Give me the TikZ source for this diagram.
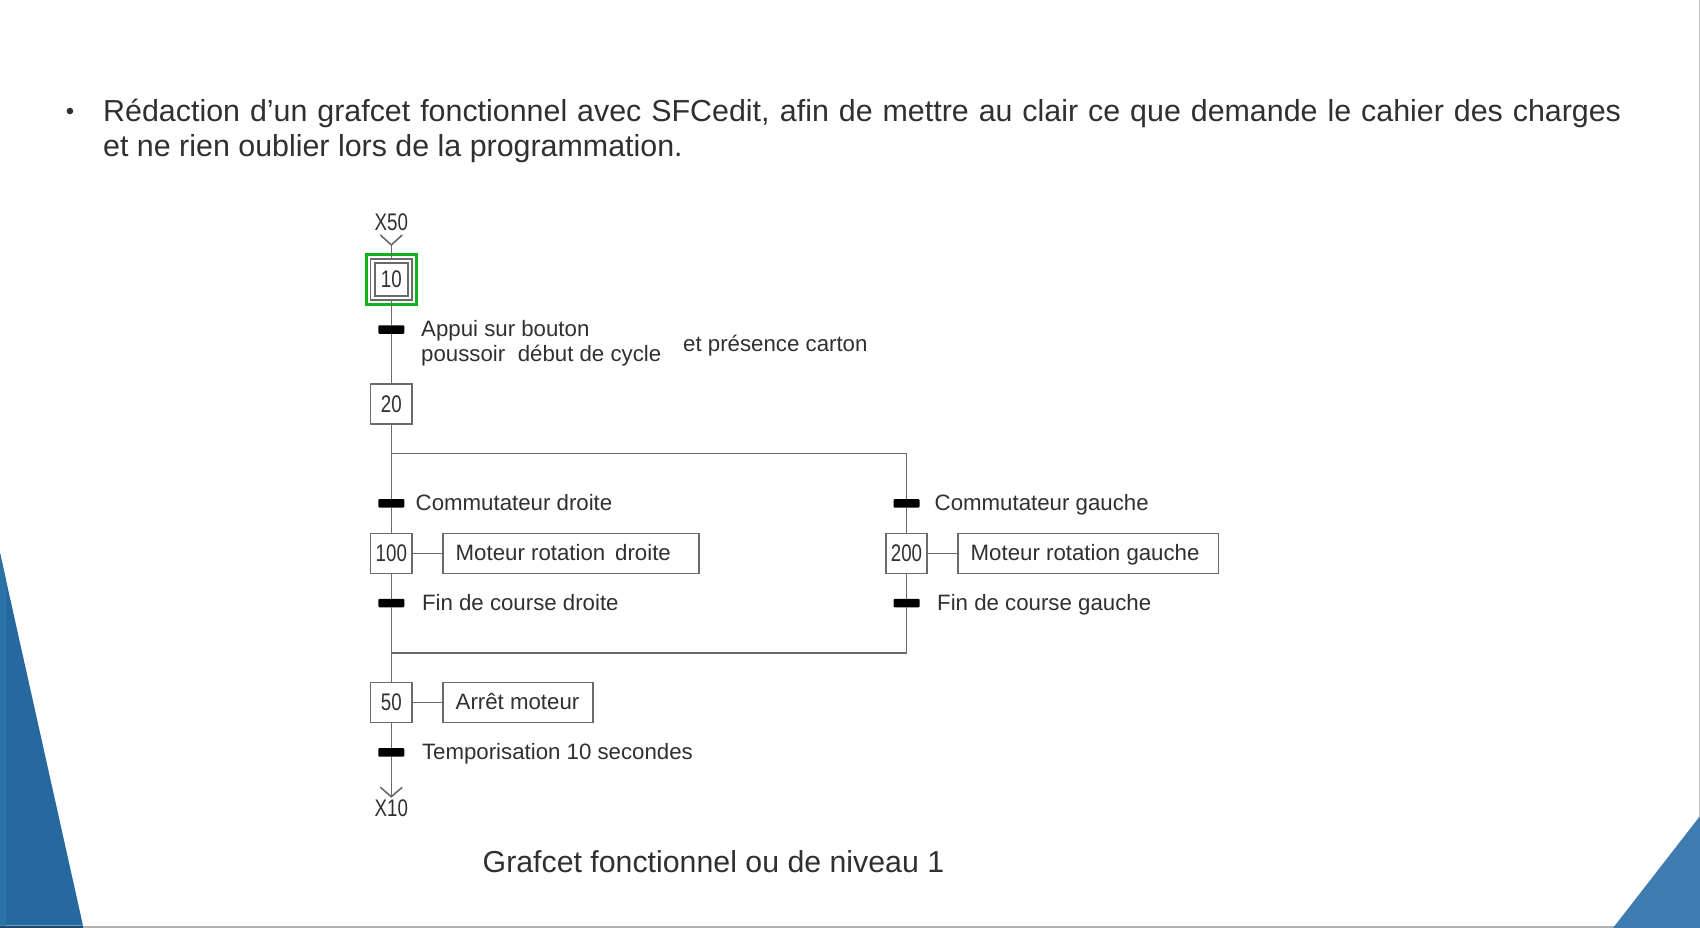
\documentclass[tikz,border=0pt]{standalone}
\usepackage{fontspec}
\setmainfont{Liberation Sans}
\usetikzlibrary{arrows.meta}

\definecolor{trait}{HTML}{6A6A6A}
\definecolor{texte}{HTML}{303030}
\definecolor{bleug}{HTML}{27699F}
\definecolor{bleugc}{HTML}{2B72A8}
\definecolor{bleud}{HTML}{3F7DB0}
\definecolor{vert}{HTML}{12B21E}
\newcommand{\etnum}[1]{\scalebox{.78}[1]{\fontsize{24}{27}\selectfont #1}}

\begin{document}
\begin{tikzpicture}[
    x=1pt, y=-1pt,
    every node/.style={font=\fontsize{22.25}{27}\selectfont, text=texte},
    etape/.style={rectangle, draw=trait, line width=1.6pt, fill=white, minimum width=41.5pt, minimum height=40pt, inner sep=0pt},
    act/.style={rectangle, draw=trait, line width=1.6pt, fill=white, minimum height=40pt, inner sep=0pt},
    tr/.style={rectangle, fill=black, rounded corners=1pt, minimum width=26pt, minimum height=8.5pt, inner sep=0pt},
    lbl/.style={anchor=west, inner sep=0pt, text depth=0pt},
    lien/.style={draw=trait, line width=1.6pt},
    renvoi/.style={inner sep=0pt},
  ]
  \useasboundingbox (0,0) rectangle (1700,928);
  \fill[white] (0,0) rectangle (1700,928);

  % fond de la diapositive
  \fill[black!30] (0,925.5) rectangle (1700,928);
  \fill[black!22] (1698.5,0) rectangle (1700,928);
  \fill[bleug] (0,553) -- (83,925.5) -- (0,925.5) -- cycle;
  \fill[bleugc] (0,553) -- (6,580) -- (6,925.5) -- (0,925.5) -- cycle;
  \fill[bleug!70!black] (0,925.5) rectangle (83,928);
  \fill[bleud] (1700,816) -- (1700,928) -- (1613,928) -- cycle;

  % texte
  \node[inner sep=0pt, font=\fontsize{24}{35}\selectfont] (puce) at (70,113.5) {•};
  \node[anchor=north west, inner sep=0pt, text width=1518pt, align=justify, font=\fontsize{30.4}{35}\selectfont] (intro) at (103,99)
    {Rédaction d’un grafcet fonctionnel avec SFCedit, afin de mettre au clair ce que demande le cahier des charges\linebreak et ne rien oublier lors de la programmation.};

  % etapes
  \node[rectangle, draw=vert, line width=3.5pt, minimum width=50pt, minimum height=50pt, inner sep=0pt] (sel) at (391.3,279.7) {};
  \node[etape, minimum height=41pt] (e10) at (391.3,279.7) {};
  \node[etape, minimum width=33pt, minimum height=33pt] (e10i) at (391.3,279.7) {\etnum{10}};
  \node[etape] (e20) at (391.3,404) {\etnum{20}};
  \node[etape] (e100) at (391.3,553.3) {\etnum{100}};
  \node[etape] (e200) at (906.5,553.3) {\etnum{200}};
  \node[etape] (e50) at (391.3,702.3) {\etnum{50}};

  % actions
  \node[act, minimum width=256.5pt] (a100) at (571,553.3) {};
  \node[lbl] (ta100) at (455.5,552) {Moteur rotation\, droite};
  \node[act, minimum width=260.5pt] (a200) at (1088.2,553.3) {};
  \node[lbl] (ta200) at (970.5,552) {Moteur rotation gauche};
  \node[act, minimum width=150.5pt] (a50) at (518,702.3) {};
  \node[lbl] (ta50) at (455.5,701.3) {Arrêt moteur};

  % transitions
  \node[tr] (t1) at (391.3,329.5) {};
  \node[tr] (t2) at (391.3,503.3) {};
  \node[tr] (t3) at (906.5,503.3) {};
  \node[tr] (t4) at (391.3,603) {};
  \node[tr] (t5) at (906.5,603) {};
  \node[tr] (t6) at (391.3,752.3) {};
  \node[lbl] (l1a) at (421,328) {Appui sur bouton};
  \node[lbl] (l1b) at (421,353.3) {poussoir\hspace{12.5pt}début de cycle};
  \node[lbl] (l1c) at (683,343.5) {et présence carton};
  \node[lbl] (l2) at (415.5,502) {Commutateur droite};
  \node[lbl] (l3) at (934.5,502) {Commutateur gauche};
  \node[lbl] (l4) at (421.8,602) {Fin de course droite};
  \node[lbl] (l5) at (937,602) {Fin de course gauche};
  \node[lbl] (l6) at (421.8,751) {Temporisation 10 secondes};

  % renvois
  \node[renvoi] (x50) at (391.3,222) {\etnum{X50}};
  \node[renvoi] (x10) at (391.3,808.7) {\etnum{X10}};
  \coordinate (in) at (391.3,245);
  \coordinate (ing) at (380.4,235);
  \coordinate (ind) at (402.2,235);
  \coordinate (out) at (391.3,796.7);
  \coordinate (outg) at (380.4,787.3);
  \coordinate (outd) at (402.2,787.3);
  \coordinate (d1) at (391.3,453.5);
  \coordinate (d2) at (906.5,453.5);
  \coordinate (f1) at (391.3,652.7);
  \coordinate (f2) at (906.5,652.7);

  \draw[lien] (ing) -- (in) -- (ind);
  \draw[lien] (in) -- (e10);
  \draw[lien] (e10) -- (t1);
  \draw[lien] (t1) -- (e20);
  \draw[lien] (e20) -- (d1);
  \draw[lien] (d1) -- (t2);
  \draw[lien] (d1) -- (d2) -- (t3);
  \draw[lien] (t2) -- (e100);
  \draw[lien] (t3) -- (e200);
  \draw[lien] (e100) -- (t4);
  \draw[lien] (e200) -- (t5);
  \draw[lien] (t4) -- (f1);
  \draw[lien] (t5) -- (f2) -- (f1);
  \draw[lien] (f1) -- (e50);
  \draw[lien] (e50) -- (t6);
  \draw[lien] (t6) -- (out);
  \draw[lien] (outg) -- (out) -- (outd);
  \draw[lien] (e100) -- (a100);
  \draw[lien] (e200) -- (a200);
  \draw[lien] (e50) -- (a50);

  \node[anchor=west, inner sep=0pt, font=\fontsize{30.3}{36}\selectfont] (titre) at (482.5,862) {Grafcet fonctionnel ou de niveau 1};
\end{tikzpicture}
\end{document}
